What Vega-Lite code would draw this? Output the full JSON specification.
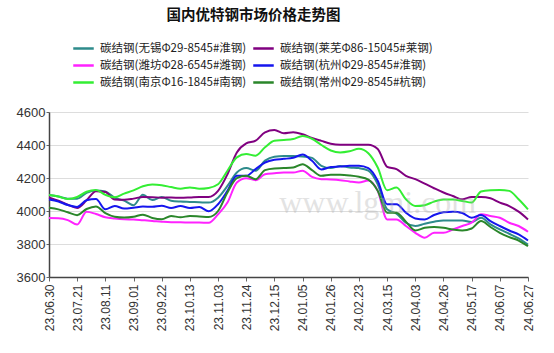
{
  "$schema": "https://vega.github.io/schema/vega-lite/v6.json",
  "width": 479,
  "height": 165,
  "autosize": {"type": "none"},
  "padding": {"left": 49, "top": 112, "right": 26, "bottom": 76},
  "background": "white",
  "config": {"view": {"stroke": null}, "font": "Liberation Sans"},
  "title": {"text": "国内优特钢市场价格走势图", "font": "Noto Sans CJK SC", "fontSize": 14.5, "fontWeight": "bold", "color": "#111", "anchor": "middle", "frame": "group", "dx": -35, "offset": 14},
  "datasets": {
    "series": [
      {"key": "wx", "name": "碳结钢(无锡Φ29-8545#淮钢)"},
      {"key": "lw", "name": "碳结钢(莱芜Φ86-15045#莱钢)"},
      {"key": "wf", "name": "碳结钢(潍坊Φ28-6545#潍钢)"},
      {"key": "hz", "name": "碳结钢(杭州Φ29-8545#淮钢)"},
      {"key": "nj", "name": "碳结钢(南京Φ16-1845#南钢)"},
      {"key": "cz", "name": "碳结钢(常州Φ29-8545#杭钢)"}
    ],
    "prices": [
      {"date": "23.06.30", "wx": 4097, "lw": 4082, "wf": 3957, "hz": 4070, "nj": 4097, "cz": 4020},
      {"date": "23.07.07", "wx": 4088, "lw": 4062, "wf": 3956, "hz": 4058, "nj": 4088, "cz": 4010},
      {"date": "23.07.14", "wx": 4075, "lw": 4038, "wf": 3945, "hz": 4036, "nj": 4073, "cz": 3992},
      {"date": "23.07.21", "wx": 4075, "lw": 4018, "wf": 3918, "hz": 4025, "nj": 4085, "cz": 3975},
      {"date": "23.07.28", "wx": 4110, "lw": 4065, "wf": 3995, "hz": 4065, "nj": 4117, "cz": 4012},
      {"date": "23.08.04", "wx": 4125, "lw": 4120, "wf": 3982, "hz": 4072, "nj": 4127, "cz": 4028},
      {"date": "23.08.11", "wx": 4118, "lw": 4115, "wf": 3962, "hz": 4010, "nj": 4098, "cz": 3987},
      {"date": "23.08.18", "wx": 4080, "lw": 4070, "wf": 3955, "hz": 4030, "nj": 4083, "cz": 3965},
      {"date": "23.08.25", "wx": 4063, "lw": 4068, "wf": 3950, "hz": 4015, "nj": 4105, "cz": 3960},
      {"date": "23.09.01", "wx": 4035, "lw": 4075, "wf": 3948, "hz": 4020, "nj": 4125, "cz": 3965},
      {"date": "23.09.08", "wx": 4098, "lw": 4085, "wf": 3944, "hz": 4027, "nj": 4150, "cz": 3978},
      {"date": "23.09.15", "wx": 4066, "lw": 4084, "wf": 3940, "hz": 4026, "nj": 4160, "cz": 3958},
      {"date": "23.09.22", "wx": 4085, "lw": 4081, "wf": 3935, "hz": 4032, "nj": 4156, "cz": 3950},
      {"date": "23.09.28", "wx": 4062, "lw": 4082, "wf": 3932, "hz": 4018, "nj": 4145, "cz": 3970},
      {"date": "23.10.09", "wx": 4057, "lw": 4080, "wf": 3932, "hz": 4030, "nj": 4135, "cz": 3962},
      {"date": "23.10.13", "wx": 4055, "lw": 4082, "wf": 3930, "hz": 4018, "nj": 4143, "cz": 3970},
      {"date": "23.10.20", "wx": 4053, "lw": 4085, "wf": 3930, "hz": 4024, "nj": 4135, "cz": 3967},
      {"date": "23.10.27", "wx": 4051, "lw": 4085, "wf": 3929, "hz": 3998, "nj": 4140, "cz": 3963},
      {"date": "23.11.03", "wx": 4081, "lw": 4122, "wf": 3980, "hz": 4041, "nj": 4162, "cz": 4000},
      {"date": "23.11.10", "wx": 4152, "lw": 4223, "wf": 4051, "hz": 4122, "nj": 4244, "cz": 4112},
      {"date": "23.11.17", "wx": 4233, "lw": 4355, "wf": 4173, "hz": 4213, "nj": 4325, "cz": 4199},
      {"date": "23.11.24", "wx": 4260, "lw": 4410, "wf": 4199, "hz": 4213, "nj": 4345, "cz": 4213},
      {"date": "23.12.01", "wx": 4244, "lw": 4426, "wf": 4187, "hz": 4254, "nj": 4335, "cz": 4193},
      {"date": "23.12.08", "wx": 4305, "lw": 4477, "wf": 4223, "hz": 4294, "nj": 4386, "cz": 4248},
      {"date": "23.12.15", "wx": 4329, "lw": 4491, "wf": 4229, "hz": 4311, "nj": 4426, "cz": 4258},
      {"date": "23.12.22", "wx": 4333, "lw": 4471, "wf": 4233, "hz": 4316, "nj": 4430, "cz": 4260},
      {"date": "23.12.29", "wx": 4333, "lw": 4477, "wf": 4233, "hz": 4323, "nj": 4436, "cz": 4264},
      {"date": "24.01.05", "wx": 4331, "lw": 4465, "wf": 4244, "hz": 4342, "nj": 4455, "cz": 4284},
      {"date": "24.01.12", "wx": 4322, "lw": 4443, "wf": 4207, "hz": 4304, "nj": 4438, "cz": 4248},
      {"date": "24.01.19", "wx": 4274, "lw": 4425, "wf": 4193, "hz": 4252, "nj": 4400, "cz": 4213},
      {"date": "24.01.26", "wx": 4260, "lw": 4408, "wf": 4191, "hz": 4266, "nj": 4367, "cz": 4219},
      {"date": "24.02.02", "wx": 4272, "lw": 4402, "wf": 4187, "hz": 4269, "nj": 4355, "cz": 4219},
      {"date": "24.02.08", "wx": 4264, "lw": 4402, "wf": 4179, "hz": 4275, "nj": 4362, "cz": 4215},
      {"date": "24.02.23", "wx": 4260, "lw": 4402, "wf": 4173, "hz": 4275, "nj": 4377, "cz": 4207},
      {"date": "24.03.01", "wx": 4245, "lw": 4402, "wf": 4185, "hz": 4260, "nj": 4350, "cz": 4190},
      {"date": "24.03.08", "wx": 4162, "lw": 4376, "wf": 4122, "hz": 4183, "nj": 4264, "cz": 4122},
      {"date": "24.03.15", "wx": 4010, "lw": 4268, "wf": 3949, "hz": 4041, "nj": 4126, "cz": 3990},
      {"date": "24.03.22", "wx": 3984, "lw": 4254, "wf": 3949, "hz": 4041, "nj": 4142, "cz": 3990},
      {"date": "24.03.29", "wx": 3929, "lw": 4213, "wf": 3909, "hz": 3990, "nj": 4071, "cz": 3935},
      {"date": "24.04.03", "wx": 3909, "lw": 4193, "wf": 3868, "hz": 3955, "nj": 4030, "cz": 3882},
      {"date": "24.04.12", "wx": 3923, "lw": 4166, "wf": 3838, "hz": 3949, "nj": 4035, "cz": 3898},
      {"date": "24.04.19", "wx": 3935, "lw": 4138, "wf": 3868, "hz": 3976, "nj": 4057, "cz": 3903},
      {"date": "24.04.26", "wx": 3943, "lw": 4112, "wf": 3868, "hz": 3992, "nj": 4069, "cz": 3898},
      {"date": "24.05.06", "wx": 3943, "lw": 4091, "wf": 3888, "hz": 3996, "nj": 4069, "cz": 3888},
      {"date": "24.05.10", "wx": 3943, "lw": 4071, "wf": 3909, "hz": 3988, "nj": 4061, "cz": 3882},
      {"date": "24.05.17", "wx": 3933, "lw": 4085, "wf": 3929, "hz": 3959, "nj": 4051, "cz": 3894},
      {"date": "24.05.24", "wx": 3959, "lw": 4085, "wf": 3980, "hz": 3976, "nj": 4118, "cz": 3939},
      {"date": "24.05.31", "wx": 3919, "lw": 4077, "wf": 3970, "hz": 3939, "nj": 4126, "cz": 3903},
      {"date": "24.06.07", "wx": 3888, "lw": 4051, "wf": 3959, "hz": 3909, "nj": 4128, "cz": 3868},
      {"date": "24.06.14", "wx": 3862, "lw": 4030, "wf": 3929, "hz": 3882, "nj": 4122, "cz": 3842},
      {"date": "24.06.21", "wx": 3834, "lw": 3996, "wf": 3909, "hz": 3858, "nj": 4071, "cz": 3821},
      {"date": "24.06.27", "wx": 3797, "lw": 3949, "wf": 3874, "hz": 3821, "nj": 4010, "cz": 3787}
    ]
  },
  "encoding": {
    "x": {
      "field": "date", "type": "ordinal", "sort": null,
      "scale": {"type": "point", "padding": 0},
      "axis": {
        "values": ["23.06.30", "23.07.21", "23.08.11", "23.09.01", "23.09.22", "23.10.13", "23.11.03", "23.11.24", "23.12.15", "24.01.05", "24.01.26", "24.02.23", "24.03.15", "24.04.03", "24.04.26", "24.05.17", "24.06.07", "24.06.27"],
        "title": null, "labelAngle": -90, "labelFontSize": 12, "labelColor": "#333", "labelPadding": 3, "labelOverlap": false,
        "tickSize": 4, "tickColor": "#666", "domainColor": "#444", "domainWidth": 1.5, "grid": false
      }
    },
    "y": {
      "field": "price", "type": "quantitative",
      "scale": {"domain": [3600, 4600], "nice": false, "zero": false},
      "axis": {
        "values": [3600, 3800, 4000, 4200, 4400, 4600], "format": "d", "labelOverlap": false,
        "title": null, "labelFontSize": 13, "labelColor": "#333", "labelPadding": 1,
        "tickSize": 3, "tickColor": "#666", "domainColor": "#444", "domainWidth": 1.5,
        "gridColor": "#dddddd", "gridWidth": 1
      }
    }
  },
  "layer": [
    {
      "data": {"name": "prices"},
      "transform": [
        {"fold": ["wx", "lw", "wf", "hz", "nj", "cz"], "as": ["key", "price"]},
        {"lookup": "key", "from": {"data": {"name": "series"}, "key": "key", "fields": ["name"]}}
      ],
      "mark": {"type": "line", "interpolate": "monotone", "strokeWidth": 2},
      "encoding": {
        "color": {
          "field": "name", "type": "nominal",
          "scale": {
            "domain": ["碳结钢(无锡Φ29-8545#淮钢)", "碳结钢(莱芜Φ86-15045#莱钢)", "碳结钢(潍坊Φ28-6545#潍钢)", "碳结钢(杭州Φ29-8545#淮钢)", "碳结钢(南京Φ16-1845#南钢)", "碳结钢(常州Φ29-8545#杭钢)"],
            "range": ["#2e8b8b", "#800080", "#ff22ff", "#1515ee", "#33ee33", "#2a862a"]
          },
          "legend": {
            "title": null, "orient": "none", "legendX": 23, "legendY": -75, "columns": 2, "direction": "horizontal",
            "symbolType": "stroke", "symbolSize": 420, "symbolStrokeWidth": 2.5,
            "labelFont": "Noto Sans CJK SC", "labelFontSize": 11.5, "labelColor": "#222", "labelLimit": 0,
            "rowPadding": -6, "columnPadding": 1, "labelOffset": 5, "padding": 0
          }
        }
      }
    },
    {
      "data": {"values": [{"date": "24.03.08", "price": 3985, "t": "www.lgmi.com"}]},
      "mark": {"type": "text", "font": "Liberation Serif", "fontSize": 32, "color": "#b0b0b0", "opacity": 0.35, "align": "center", "baseline": "alphabetic"},
      "encoding": {
        "text": {"field": "t", "type": "nominal"}
      }
    }
  ]
}
